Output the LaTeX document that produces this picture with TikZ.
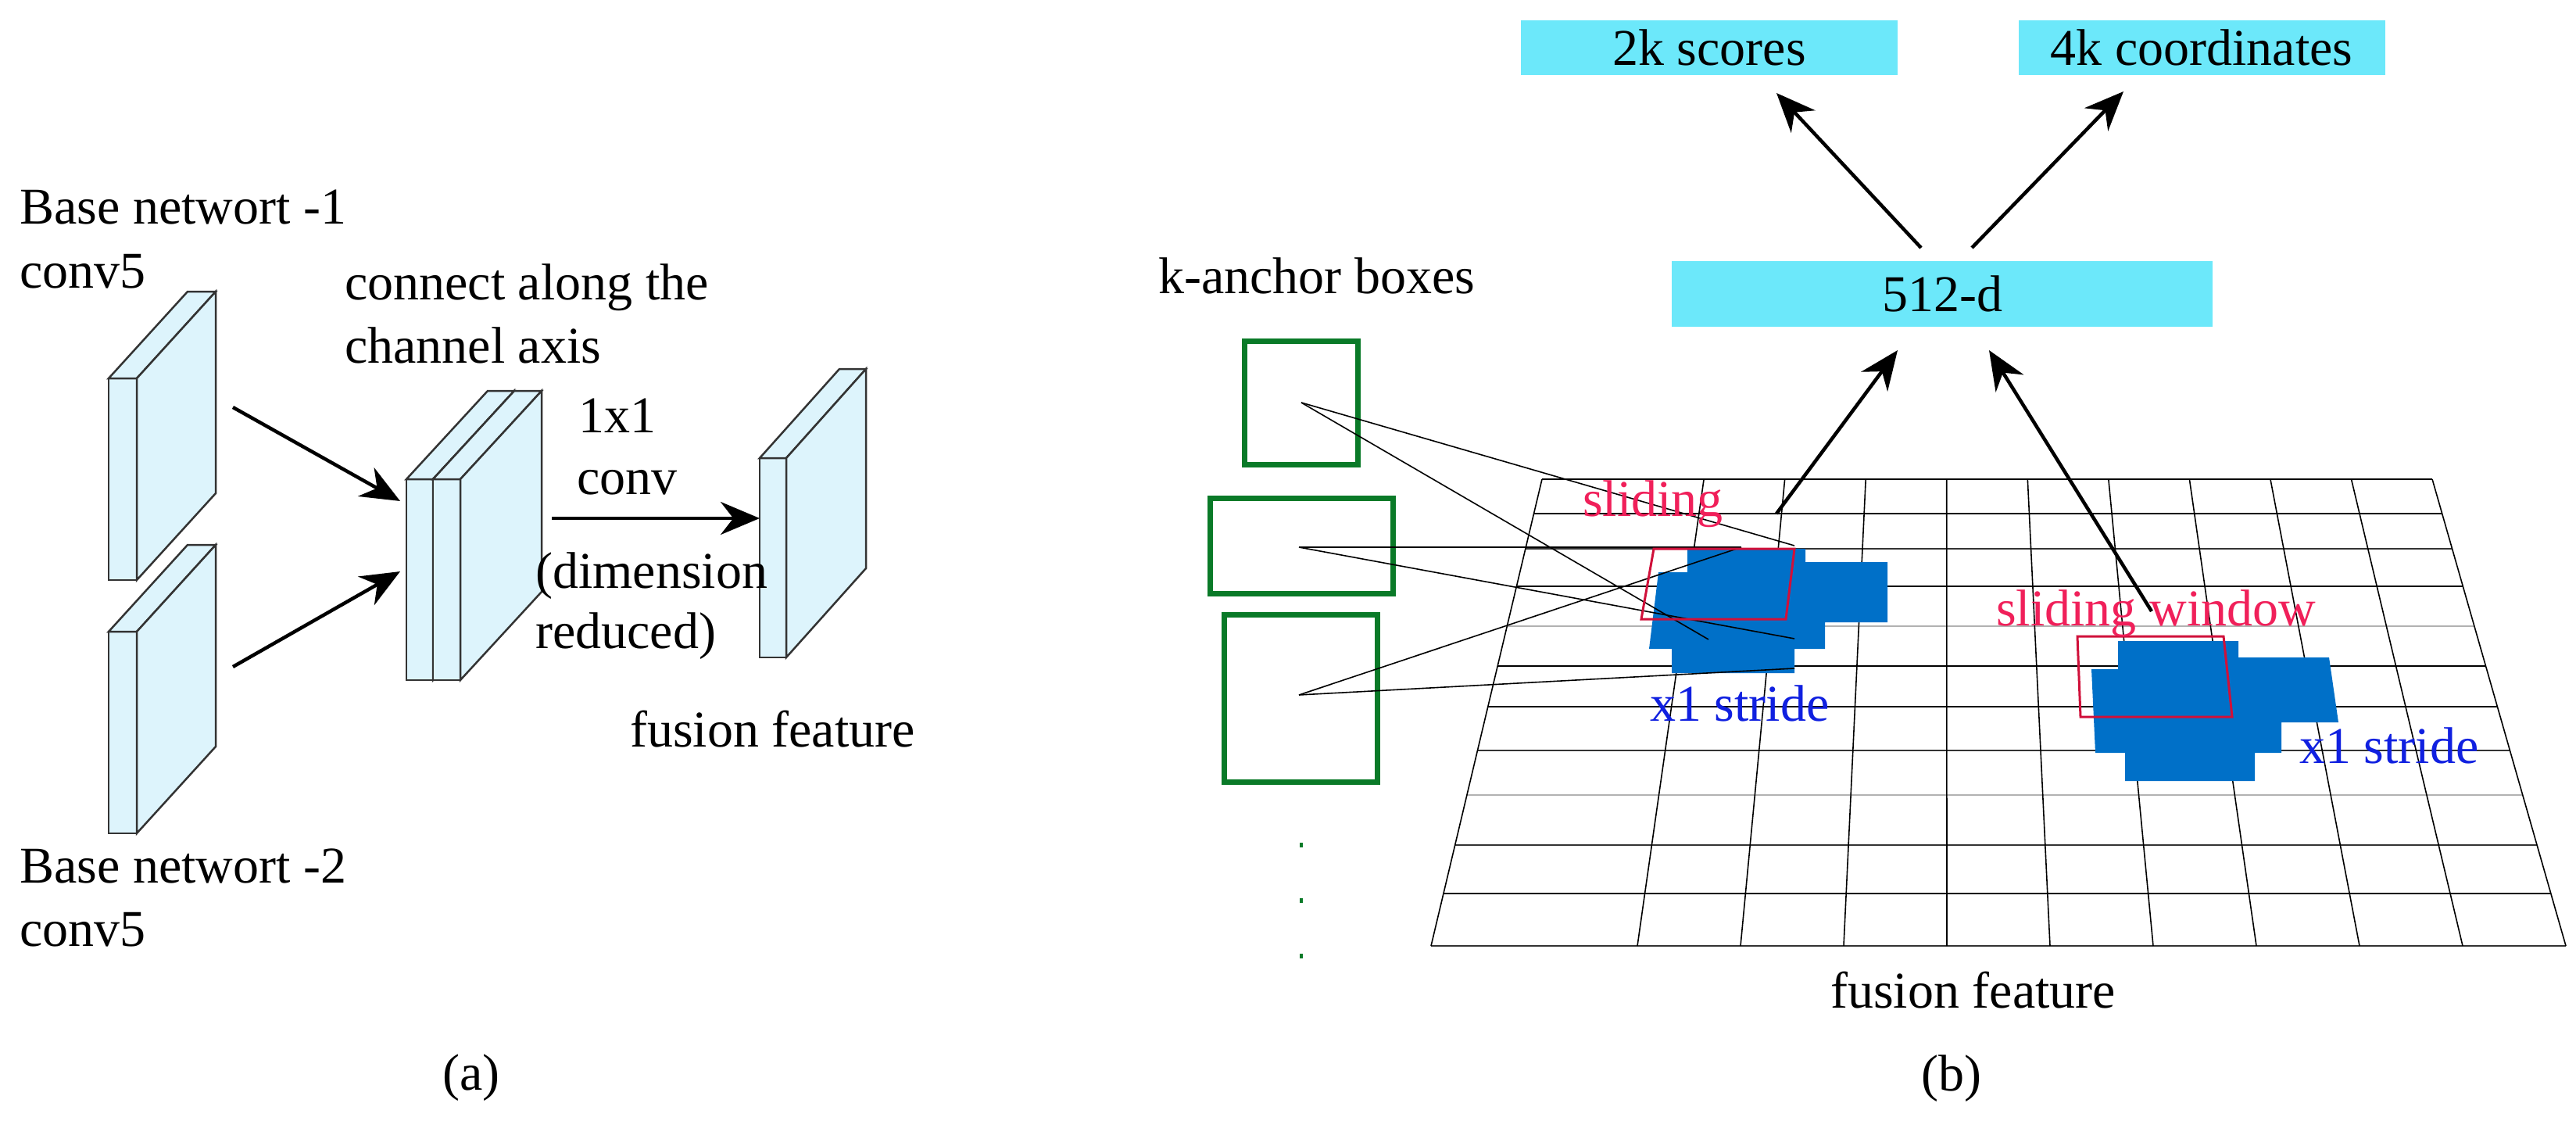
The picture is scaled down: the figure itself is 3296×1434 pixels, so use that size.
\documentclass[tikz,border=0pt]{standalone}
\usepackage{fontspec}
\newfontfamily\tnr{Liberation Serif}
\usetikzlibrary{arrows.meta}
\definecolor{slabc}{HTML}{DDF4FC}
\definecolor{boxc}{HTML}{6CE8FA}
\definecolor{anc}{HTML}{0A7A28}
\definecolor{bluef}{HTML}{0070C8}
\definecolor{redl}{HTML}{D0103A}
\definecolor{redt}{HTML}{F0205A}
\definecolor{bluet}{HTML}{1020E0}
\newcommand\myslab[6]{%
 \filldraw[slab] (#1,#2) rectangle ++(#3,#4);
 \filldraw[slab] (#1,#2) -- ++(#5,#6) -- ++(#3,0) -- ++({-(#5)},{-(#6)}) -- cycle;
 \filldraw[slab] ({#1+#3},#2) -- ++(#5,#6) -- ++(0,#4) -- ++({-(#5)},{-(#6)}) -- cycle;}
\begin{document}
\begin{tikzpicture}[x=1pt,y=-1pt,
 slab/.style={fill=slabc,draw=black!80,line width=2.5pt},
 txt/.style={inner sep=0pt,font=\tnr\fontsize{66}{70}\selectfont},
 arr/.style={line width=4.5pt,-{Stealth[length=50pt,width=42pt]}},
 lbox/.style={fill=boxc,inner sep=0pt,font=\tnr\fontsize{66}{70}\selectfont},
 anch/.style={draw=anc,line width=7pt},
 thin/.style={line width=1.6pt},
 hl/.style={line width=2.6pt},
 vl/.style={line width=1.6pt}]
\useasboundingbox (0,0) rectangle (3296,1434);
% ---------- (a)
\node[txt,anchor=base west] (b1) at (25,286) {Base networt -1};
\node[txt,anchor=base west] (c1) at (25,368) {conv5};
\node[txt,anchor=base west] (b2) at (25,1129) {Base networt -2};
\node[txt,anchor=base west] (c2) at (25,1210) {conv5};
\myslab{139}{484}{36}{258}{101}{-111}
\myslab{139}{808}{36}{258}{101}{-111}
\myslab{520}{613}{34}{257}{104}{-113}
\myslab{554}{613}{35}{257}{104}{-113}
\myslab{972}{586}{34}{255}{102}{-114}
\coordinate (a1s) at (298,521); \coordinate (a1e) at (512,641);
\coordinate (a2s) at (298,853); \coordinate (a2e) at (512,731);
\coordinate (a3s) at (706,663); \coordinate (a3e) at (972,663);
\draw[arr] (a1s) -- (a1e);
\draw[arr] (a2s) -- (a2e);
\draw[arr] (a3s) -- (a3e);
\node[txt,anchor=base west] (t1) at (441,383) {connect along the};
\node[txt,anchor=base west] (t2) at (441,464) {channel axis};
\node[txt,anchor=base west] (t3) at (740,553) {1x1};
\node[txt,anchor=base west] (t4) at (738,632) {conv};
\node[txt,anchor=base west] (t5) at (685,752) {(dimension};
\node[txt,anchor=base west] (t6) at (685,829) {reduced)};
\node[txt,anchor=base west] (t7) at (806,955) {fusion feature};
\node[txt,anchor=base] (la) at (603,1394) {(a)};
% ---------- (b) grid
\foreach \y/\c in {613/black,657/black,702/black!80,750/black,801/black!30,852/black,904/black,960/black!80,1017/black!30,1081/black!80,1143/black,1210/black!80}{
  \pgfmathsetmacro\t{(\y-613)/(1210-613)}
  \draw[hl,draw=\c] ({1973-142*\t},\y) -- ({3112+171*\t},\y);
}
\foreach \i in {0,2,3,4,5,6,7,8,9,10,11}{
  \draw[vl] ({1973+103.55*\i},613) -- ({1831+132*\i},1210);
}
% blue regions
\fill[bluef] (2159,702) -- (2310,702) -- (2310,719) -- (2415,719) -- (2415,796) -- (2335,796) -- (2335,830) -- (2296,830) -- (2296,861) -- (2139,861) -- (2139,830) -- (2110,830) -- (2122,732) -- (2159,732) -- cycle;
\fill[bluef] (2710,820) -- (2864,820) -- (2864,841) -- (2980,841) -- (2992,924) -- (2919,924) -- (2919,963) -- (2885,963) -- (2885,999) -- (2719,999) -- (2719,963) -- (2681,963) -- (2676,856) -- (2710,856) -- cycle;
% anchor boxes
\node[txt,anchor=base west] (kab) at (1482,375) {k-anchor boxes};
\draw[anch] (1592,436) rectangle (1737,594);
\draw[anch] (1548,637) rectangle (1782,759);
\draw[anch] (1566,786) rectangle (1762,1000);
\coordinate (k1) at (1665,515); \coordinate (k2) at (1662,700); \coordinate (k3) at (1662,889);
\coordinate (p1) at (2296,698); \coordinate (p2) at (2186,818);
\coordinate (p3) at (2228,700); \coordinate (p4) at (2296,817); \coordinate (p5) at (2296,855);
\draw[thin] (k1) -- (p1); \draw[thin] (k1) -- (p2);
\draw[thin] (k2) -- (p3); \draw[thin] (k2) -- (p4);
\draw[thin] (k3) -- (p3); \draw[thin] (k3) -- (p5);
\foreach \y in {1081,1152,1223} \fill[anc] (1663,\y-3) rectangle (1667,\y+3);
% red windows
\draw[redl,line width=3pt] (2116,702) -- (2296,702) -- (2285,792) -- (2100,792) -- cycle;
\draw[redl,line width=3pt] (2658,814) -- (2845,814) -- (2856,917) -- (2662,917) -- cycle;
\node[txt,anchor=base west,text=redt] (sl1) at (2025,660) {sliding};
\node[txt,anchor=base west,text=redt] (sl2) at (2554,800) {sliding window};
\node[txt,anchor=base west,text=bluet] (x1) at (2111,922) {x1 stride};
\node[txt,anchor=base west,text=bluet] (x2) at (2942,976) {x1 stride};
% output boxes
\node[lbox,minimum width=482pt,minimum height=70pt] (sc) at (2187,61) {2k scores};
\node[lbox,minimum width=469pt,minimum height=70pt] (co) at (2817,61) {4k coordinates};
\node[lbox,minimum width=692pt,minimum height=84pt] (d512) at (2485,376) {512-d};
\coordinate (g1) at (2273,657); \coordinate (g2) at (2753,782);
\draw[arr] (g1) -- (2428,448);
\draw[arr] (g2) -- (2545,448);
\draw[arr] (2458,317) -- (2273,119);
\draw[arr] (2523,317) -- (2717,117);
\node[txt,anchor=base west] (ff) at (2342,1289) {fusion feature};
\node[txt,anchor=base] (lb) at (2497,1395) {(b)};
\end{tikzpicture}
\end{document}
